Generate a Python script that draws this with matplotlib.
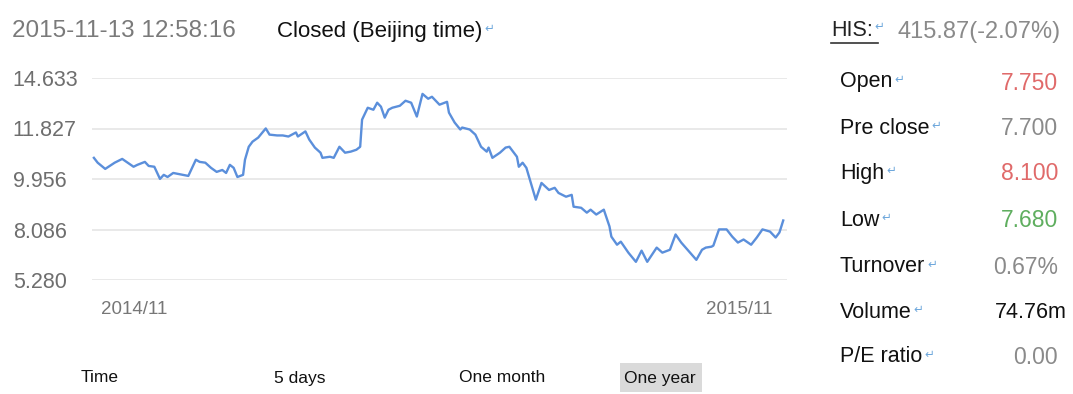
import numpy as np
import matplotlib
matplotlib.use("Agg")
import matplotlib.pyplot as plt
from matplotlib.transforms import ScaledTranslation
from matplotlib.lines import Line2D
from matplotlib.patches import Rectangle

plt.rcParams['font.family'] = ['Liberation Sans', 'DejaVu Sans']

# ---------------- data ----------------
days = [0, 2, 6, 11, 15, 21, 23, 27, 29, 32, 35, 37, 39, 42, 47, 50, 54, 56, 59, 62,
        65, 68, 70, 72, 74, 76, 79, 80, 82, 84, 87, 91, 93, 97, 100, 103, 107, 108, 112, 114,
        117, 120, 121, 125, 127, 130, 133, 136, 139, 141, 142, 145, 148, 150, 152, 154, 156, 158, 162, 165,
        168, 171, 174, 177, 179, 183, 187, 188, 191, 194, 195, 199, 202, 205, 208, 209, 211, 215, 218, 220,
        224, 225, 227, 229, 232, 234, 237, 241, 244, 246, 250, 253, 254, 258, 261, 263, 266, 270, 273, 274,
        277, 279, 283, 287, 290, 293, 298, 301, 305, 308, 311, 319, 322, 324, 327, 328, 331, 335, 338, 341,
        344, 348, 351, 354, 358, 361, 363, 365]
price = [10.74, 10.56, 10.33, 10.56, 10.70, 10.41, 10.48, 10.59, 10.44, 10.41, 9.96, 10.11, 10.03, 10.18, 10.11, 10.07, 10.67, 10.59, 10.56, 10.37,
         10.22, 10.29, 10.18, 10.48, 10.37, 10.03, 10.11, 10.67, 11.15, 11.34, 11.49, 11.83, 11.60, 11.57, 11.57, 11.53, 11.68, 11.53, 11.72, 11.42,
         11.12, 10.93, 10.74, 10.78, 10.74, 11.15, 10.93, 10.97, 11.04, 11.15, 12.32, 12.98, 12.87, 13.26, 13.04, 12.43, 12.87, 12.98, 13.09, 13.37,
         13.26, 12.49, 13.75, 13.48, 13.59, 13.15, 13.31, 12.71, 12.16, 11.79, 11.88, 11.79, 11.60, 11.15, 10.97, 11.12, 10.74, 10.93, 11.12, 11.15,
         10.78, 10.41, 10.56, 10.37, 9.66, 9.19, 9.81, 9.55, 9.63, 9.44, 9.30, 9.37, 8.93, 8.89, 8.71, 8.82, 8.64, 8.82, 8.20, 7.69,
         7.24, 7.41, 6.80, 6.29, 6.91, 6.29, 7.08, 6.80, 6.96, 7.81, 7.36, 6.40, 6.96, 7.08, 7.13, 7.19, 8.09, 8.09, 7.69, 7.36,
         7.53, 7.24, 7.64, 8.09, 7.97, 7.64, 7.92, 8.42]

ytick_values = [5.280, 8.086, 9.956, 11.827, 14.633]
xtick_days = [0, 365]
xtick_labels = ['2014/11', '2015/11']

header_time = '2015-11-13 12:58:16'
header_status = 'Closed (Beijing time)'
index_name = 'HIS:'
index_value = '415.87(-2.07%)'

stat_labels = ['Open', 'Pre close', 'High', 'Low', 'Turnover', 'Volume', 'P/E ratio']
stat_values = ['7.750', '7.700', '8.100', '7.680', '0.67%', '74.76m', '0.00']
stat_colors = ['#e06a6a', '#8a8a8a', '#e06a6a', '#5fae5f', '#8a8a8a', '#111111', '#8a8a8a']

tabs = ['Time', '5 days', 'One month', 'One year']

# ---------------- figure ----------------
W, H = 1073, 394
fig = plt.figure(figsize=(W / 100, H / 100), dpi=100)
fig.patch.set_facecolor('white')


def fx(x):
    return x / W


def fy(y):
    return 1 - y / H


ax = fig.add_axes([fx(92), fy(280), 695 / W, 202 / H])

yv = np.array(ytick_values)
lv = np.arange(len(yv), dtype=float)


def fwd(v):
    v = np.asarray(v, float)
    out = np.interp(v, yv, lv)
    out = np.where(v < yv[0], (v - yv[0]) / (yv[1] - yv[0]), out)
    out = np.where(v > yv[-1], lv[-1] + (v - yv[-1]) / (yv[-1] - yv[-2]), out)
    return out


def inv(l):
    l = np.asarray(l, float)
    out = np.interp(l, lv, yv)
    out = np.where(l < 0, yv[0] + l * (yv[1] - yv[0]), out)
    out = np.where(l > lv[-1], yv[-1] + (l - lv[-1]) * (yv[-1] - yv[-2]), out)
    return out


ax.set_yscale('function', functions=(fwd, inv))
ax.plot(days, price, color='#5b8fdb', lw=1.7, solid_joinstyle='round')
ax.set_ylim(ytick_values[0], ytick_values[-1])
ax.set_xlim(-1, 367)

ax.set_yticks(ytick_values)
ax.set_yticklabels(['%.3f' % v for v in ytick_values])
ax.yaxis.set_minor_locator(matplotlib.ticker.NullLocator())
ax.tick_params(axis='y', length=0, pad=57, labelsize=15.5, labelcolor='#6e6e6e')
for lab in ax.get_yticklabels():
    lab.set_ha('left')

ax.set_xticks(xtick_days)
ax.set_xticklabels(xtick_labels)
ax.tick_params(axis='x', length=0, pad=15, labelsize=13.5, labelcolor='#777777')
xl = ax.get_xticklabels()
xl[0].set_ha('left')
xl[0].set_transform(xl[0].get_transform() + ScaledTranslation(7 / 100, 0, fig.dpi_scale_trans))
xl[1].set_ha('right')
xl[1].set_transform(xl[1].get_transform() + ScaledTranslation(-11 / 100, 0, fig.dpi_scale_trans))

ax.grid(axis='y', color='#e9e9e9', lw=1.4)
ax.set_axisbelow(True)
for s in ax.spines.values():
    s.set_visible(False)

ARROW = '\u21b5'
arrow_kw = dict(color='#6fa8dc', fontsize=8.5, family=['DejaVu Sans'])


def arrow_after(t, dx=1.5, dy=2.0):
    ax.annotate(ARROW, xy=(1, 0.5), xycoords=t, xytext=(dx, dy), textcoords='offset points',
                ha='left', va='center', annotation_clip=False, **arrow_kw)


# header
fig.text(fx(12), fy(31), header_time, fontsize=17.5, color='#7a7a7a', va='center', ha='left')
t = fig.text(fx(277), fy(31), header_status, fontsize=16, color='#111111', va='center', ha='left')
arrow_after(t)

# index line
t = fig.text(fx(831), fy(31), index_name, fontsize=15.5, color='#222222', va='center', ha='left')
fig.add_artist(Line2D([fx(831), fx(878)], [fy(42.5), fy(42.5)], color='#333333', lw=1.2,
                      transform=fig.transFigure))
arrow_after(t, dx=1, dy=3)
fig.text(fx(897), fy(32), index_value, fontsize=17, color='#8a8a8a', va='center', ha='left')

# stats
row_y = [82, 128, 173, 220, 267, 312, 357]
for lab, val, col, y in zip(stat_labels, stat_values, stat_colors, row_y):
    t = fig.text(fx(840), fy(y), lab, fontsize=15.5, color='#111111', va='center', ha='left')
    arrow_after(t)
    xr = 1067 if lab == 'Volume' else 1058
    fig.text(fx(xr), fy(y + 1), val, fontsize=16.5 if lab != 'Volume' else 15.5,
             color=col, va='center', ha='right')

# tabs
fig.add_artist(Rectangle((fx(620), fy(392)), 82 / W, 29 / H, transform=fig.transFigure,
                         facecolor='#dadada', edgecolor='none', zorder=0))
tab_x = [100, 300, 502, 660]
for name, x in zip(tabs, tab_x):
    fig.text(fx(x), fy(378), name, fontsize=12.5, color='#111111', va='center', ha='center')

fig.savefig('out.png', dpi=100)
